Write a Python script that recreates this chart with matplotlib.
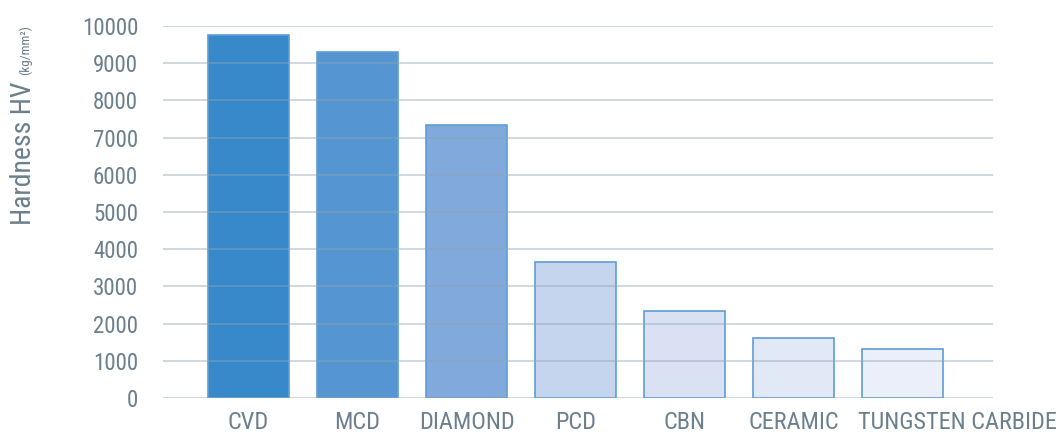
import matplotlib
matplotlib.use("Agg")
import numpy as np
from matplotlib import pyplot as plt

# hardness of cutting tool materials, Vickers
materials = ["CVD", "MCD", "DIAMOND", "PCD", "CBN", "CERAMIC", "TUNGSTEN CARBIDE"]
hardness = [9750, 9300, 7350, 3660, 2350, 1600, 1325]
fills = ["#3889ca", "#5596d2", "#81a9dc", "#c5d5ee", "#d9e1f3", "#e2e9f6", "#eaeff9"]

text_col = "#6b7f8d"
plt.rcParams["font.family"] = ["Roboto Condensed", "DejaVu Sans"]

fig = plt.figure(figsize=(10.59, 4.32), dpi=100)
ax = fig.add_axes([0.154, 0.0787, 0.7837, 0.8611])

x = np.arange(len(materials))
bar_w = 0.743
ax.bar(x, hardness, width=bar_w, color=fills, edgecolor="#5d9dd8",
       linewidth=1.2, zorder=1)

ax.set_xlim(-0.784, 6.83)
ax.set_ylim(0, 10000)
ax.set_yticks(np.arange(0, 10001, 1000))
ax.set_xticks(x)
# the long last label is drawn separately, starting at its bar's left edge
ax.set_xticklabels(materials[:-1] + [""])
ax.annotate(materials[-1], xy=(x[-1] - bar_w / 2 - 0.04, 0),
            xycoords=ax.get_xaxis_transform(), xytext=(0, -9),
            textcoords="offset points", ha="left", va="top",
            fontsize=17.5, color=text_col)

# grid sits on top of the bars, semi-transparent
ax.yaxis.grid(True, color="#8fa3b5", alpha=0.42, linewidth=1.4, zorder=3)
ax.set_axisbelow(False)
for s in ax.spines.values():
    s.set_visible(False)
ax.tick_params(axis="y", length=0, labelsize=16.5, colors=text_col, pad=18)
ax.tick_params(axis="x", length=0, labelsize=17.5, colors=text_col, pad=9)

# axis title: main part plus small unit
fig.text(0.009, 0.479, "Hardness HV", rotation=90, fontsize=20,
         color=text_col, ha="left", va="bottom")
fig.text(0.018, 0.827, "(kg/mm²)", rotation=90, fontsize=9.5,
         color=text_col, ha="left", va="bottom")

fig.savefig("out.png", dpi=100)
